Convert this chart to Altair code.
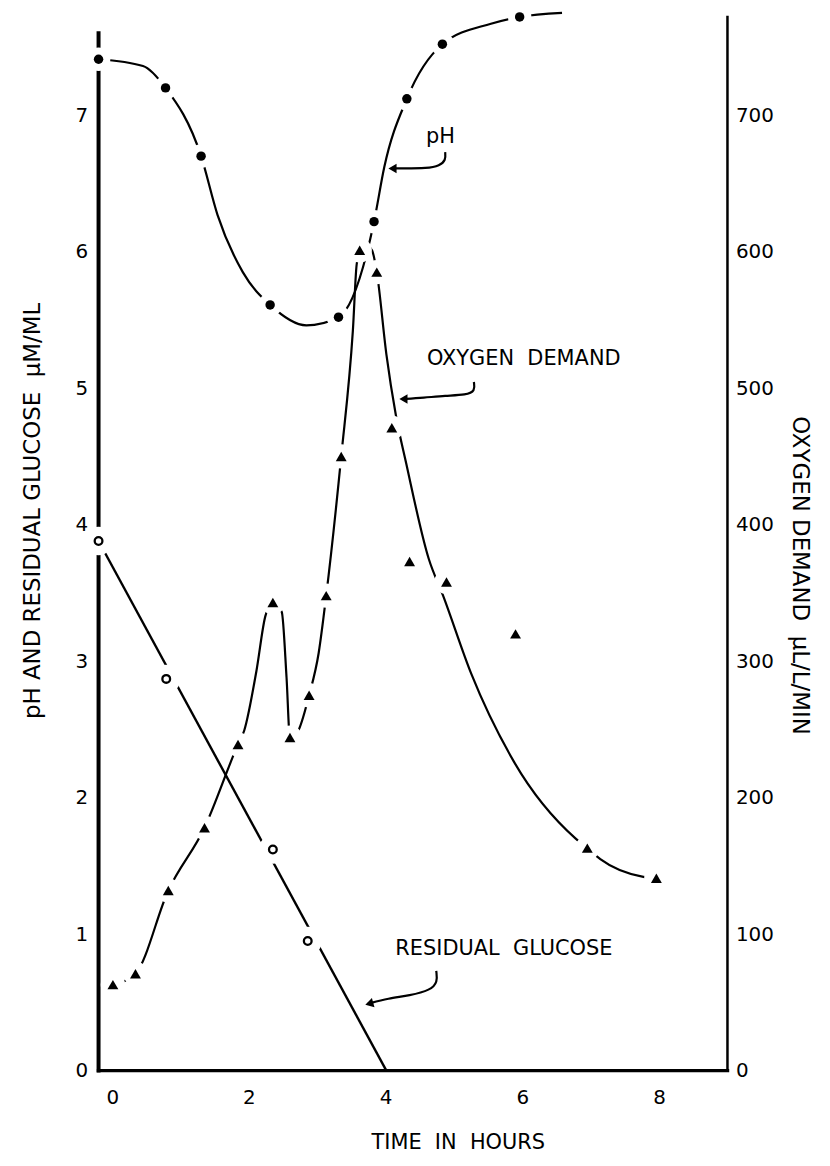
import altair as alt
import pandas as pd

FONT = "DejaVu Sans"
NB = "\u00a0"

# ---------------- data ----------------
# pH (filled circles) and the hand-drawn pH curve
ph_t = [-0.20, 0.78, 1.30, 2.31, 3.31, 3.83, 4.31, 4.83, 5.96]
ph_v = [7.41, 7.20, 6.70, 5.61, 5.52, 6.22, 7.12, 7.52, 7.72]
ph_curve_t = [-0.20, 0.45, 0.78, 1.30, 1.54, 1.91, 2.31, 2.84, 3.31, 3.83, 3.98, 4.31, 4.83, 5.54, 5.96, 6.58]
ph_curve_v = [7.41, 7.36, 7.20, 6.70, 6.27, 5.85, 5.61, 5.46, 5.52, 6.22, 6.62, 7.12, 7.52, 7.67, 7.72, 7.75]

# residual glucose (open circles) and its fitted straight line
glu_t = [-0.20, 0.79, 2.35, 2.86]
glu_v = [3.88, 2.87, 1.62, 0.95]
glu_line_t = [-0.20, 4.01]
glu_line_v = [3.88, 0.0]

# oxygen demand (filled triangles) and the hand-drawn curve
o2_t = [0.01, 0.34, 0.82, 1.35, 1.84, 2.35, 2.60, 2.88, 3.13, 3.35, 3.62, 3.87, 4.09, 4.35, 4.89, 5.90, 6.95, 7.96]
o2_v = [63, 71, 132, 178, 239, 343, 244, 275, 348, 450, 601, 585, 471, 373, 358, 320, 163, 141]
o2_curve_t = [0.01, 0.34, 0.82, 1.35, 1.84, 1.93, 2.11, 2.24, 2.35, 2.48, 2.55, 2.60, 2.71, 2.88, 3.02,
              3.13, 3.35, 3.52, 3.58, 3.70, 3.80, 3.87, 4.01, 4.15, 4.30, 4.63, 4.84, 5.25, 5.88, 6.78,
              6.95, 7.14, 7.77, 7.96]
o2_curve_v = [63, 71, 132, 178, 239, 249, 293, 333, 343, 336, 288, 244, 248, 275, 306,
              348, 450, 542, 592, 605, 601, 585, 525, 480, 445, 375, 348, 291, 226, 170,
              163, 155, 142, 141]

# axis tick values
x_ticks = [0, 2, 4, 6, 8]
left_ticks = [0, 1, 2, 3, 4, 5, 6, 7]
right_ticks = [0, 100, 200, 300, 400, 500, 600, 700]

# annotations
ann_text = ["pH", "OXYGEN" + NB + NB + "DEMAND", "RESIDUAL" + NB + NB + "GLUCOSE"]
ann_t = [4.80, 6.02, 5.73]
ann_v = [6.84, 5.21, 0.89]

# curved arrows (leader lines)
arr_ph_t = [4.87, 4.88, 4.79, 4.61, 4.24, 4.08]
arr_ph_v = [6.73, 6.67, 6.63, 6.61, 6.61, 6.61]
arr_o2_t = [5.29, 5.31, 5.18, 4.87, 4.56, 4.24]
arr_o2_v = [5.045, 4.98, 4.95, 4.945, 4.93, 4.92]
arr_glu_t = [4.74, 4.76, 4.66, 4.35, 4.04, 3.74]
arr_glu_v = [0.73, 0.65, 0.59, 0.55, 0.53, 0.49]
head_t = [4.10, 4.26, 3.76]
head_v = [6.61, 4.92, 0.49]
head_angle = [0, 0, 344]

# axis lines (frame drawn by hand in the original)
frame_t = [-0.2, 9.0, -0.2]
frame_t2 = [-0.2, 9.0, 9.0]
frame_v = [0.0, 0.0, 0.0]
frame_v2 = [7.60, 7.72, 0.0]
frame_w = [4.0, 2.5, 3.5]

# ---------------- tables ----------------
ph_df = pd.DataFrame({"t": ph_t, "v": ph_v})
ph_curve_df = pd.DataFrame({"t": ph_curve_t, "v": ph_curve_v})
glu_df = pd.DataFrame({"t": glu_t, "v": glu_v})
glu_line_df = pd.DataFrame({"t": glu_line_t, "v": glu_line_v})
o2_df = pd.DataFrame({"t": o2_t, "o2": o2_v})
o2_curve_df = pd.DataFrame({"t": o2_curve_t, "o2": o2_curve_v})
ann_df = pd.DataFrame({"t": ann_t, "v": ann_v, "label": ann_text})
rows = []
for name, ts, vs in [("ph", arr_ph_t, arr_ph_v), ("o2", arr_o2_t, arr_o2_v), ("glu", arr_glu_t, arr_glu_v)]:
    for i, (a, b) in enumerate(zip(ts, vs)):
        rows.append({"arrow": name, "i": i, "t": a, "v": b})
arr_df = pd.DataFrame(rows)
head_df = pd.DataFrame({"t": head_t, "v": head_v, "ang": head_angle})
frame_df = pd.DataFrame({"t": frame_t, "t2": frame_t2, "v": frame_v, "v2": frame_v2, "w": frame_w})

# ---------------- shared encodings ----------------
x_scale = alt.Scale(domain=[-0.2, 9.0], nice=False, zero=False)
x_axis = alt.Axis(values=x_ticks, title="TIME" + NB + NB + "IN" + NB + NB + "HOURS",
                  domain=False, ticks=False, grid=False, labelPadding=17, titlePadding=24,
                  titleX=361, labelFontSize=20, titleFontSize=21, labelFont=FONT, titleFont=FONT,
                  labelColor="black", titleColor="black", titleFontWeight="normal")
X = alt.X("t:Q", scale=x_scale, axis=x_axis)

yl_scale = alt.Scale(domain=[0, 7.75], nice=False, zero=False)
yl_axis = alt.Axis(values=left_ticks, title="pH AND RESIDUAL GLUCOSE" + NB + NB + "\u00b5M/ML",
                   domain=False, ticks=False, tickSize=0, grid=False, labelPadding=11, titlePadding=31,
                   titleY=500, labelFontSize=20, titleFontSize=23, labelFont=FONT, titleFont=FONT,
                   labelColor="black", titleColor="black", titleFontWeight="normal")
YL = alt.Y("v:Q", scale=yl_scale, axis=yl_axis)

yr_scale = alt.Scale(domain=[0, 775], nice=False, zero=False)
yr_axis = alt.Axis(orient="right", values=right_ticks,
                   title="OXYGEN DEMAND" + NB + NB + "\u00b5L/L/MIN",
                   domain=False, ticks=False, tickSize=0, grid=False, labelPadding=8, titlePadding=14,
                   titleY=565, labelFontSize=20, titleFontSize=23, labelFont=FONT, titleFont=FONT,
                   labelColor="black", titleColor="black", titleFontWeight="normal")
YR = alt.Y("o2:Q", scale=yr_scale, axis=yr_axis)

# ---------------- left-scale layers ----------------
frame = alt.Chart(frame_df).mark_rule(color="black", strokeCap="square").encode(
    x=X, x2=alt.X2("t2:Q"), y=YL, y2=alt.Y2("v2:Q"),
    strokeWidth=alt.StrokeWidth("w:Q", scale=None, legend=None))

ph_line = alt.Chart(ph_curve_df).mark_line(color="black", strokeWidth=2.2, interpolate="monotone").encode(x=X, y=YL)
glu_line = alt.Chart(glu_line_df).mark_line(color="black", strokeWidth=2.4).encode(x=X, y=YL)

arrows = alt.Chart(arr_df).mark_line(color="black", strokeWidth=2.2, interpolate="basis").encode(
    x=X, y=YL, detail="arrow:N", order="i:Q")
heads = alt.Chart(head_df).mark_point(shape="triangle-left", filled=True, color="black", size=90, opacity=1).encode(
    x=X, y=YL, angle=alt.Angle("ang:Q", scale=None))

ph_halo = alt.Chart(ph_df).mark_point(shape="circle", filled=True, fill="white", stroke="white",
                                      strokeWidth=0, size=560, opacity=1, fillOpacity=1).encode(x=X, y=YL)
glu_halo = alt.Chart(glu_df).mark_point(shape="circle", filled=True, fill="white", stroke="white",
                                        strokeWidth=0, size=820, opacity=1, fillOpacity=1).encode(x=X, y=YL)

ph_pts = alt.Chart(ph_df).mark_point(shape="circle", filled=True, color="black", size=90, opacity=1).encode(x=X, y=YL)
glu_pts = alt.Chart(glu_df).mark_point(shape="circle", filled=False, color="black", size=60,
                                       strokeWidth=2.3, opacity=1).encode(x=X, y=YL)

labels = alt.Chart(ann_df).mark_text(font=FONT, fontSize=21, color="black", align="center",
                                     baseline="middle").encode(x=X, y=YL, text="label:N")

left = alt.layer(frame, ph_line, glu_line, arrows, heads, ph_halo, glu_halo, ph_pts, glu_pts, labels)

# ---------------- right-scale layers ----------------
o2_line = alt.Chart(o2_curve_df).mark_line(color="black", strokeWidth=2.2, interpolate="monotone").encode(x=X, y=YR)
o2_halo = alt.Chart(o2_df).mark_point(shape="circle", filled=True, fill="white", stroke="white",
                                      strokeWidth=0, size=600, opacity=1, fillOpacity=1).encode(x=X, y=YR)
o2_pts = alt.Chart(o2_df).mark_point(shape="triangle-up", filled=True, color="black", size=120, opacity=1).encode(x=X, y=YR)

right = alt.layer(o2_line, o2_halo, o2_pts)

chart = alt.layer(left, right).resolve_scale(y="independent").properties(
    width=632, height=1063,
    autosize=alt.AutoSizeParams(type="none"),
    padding={"left": 91, "top": 2, "right": 95, "bottom": 92},
    background="white",
).configure_view(stroke=None)

chart.save("out.html", embed_options={"renderer": "svg", "actions": False})
